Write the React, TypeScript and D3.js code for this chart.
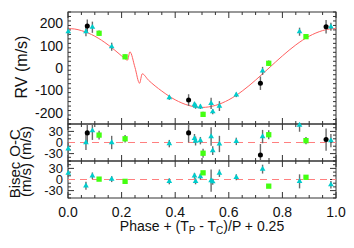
import { useRef, useEffect } from "react";
import * as d3 from "d3";

// model RV curve (phase, m/s), incl. the RM anomaly near 0.23
const modelPhase = [0, 0.025, 0.05, 0.1, 0.15, 0.2, 0.215, 0.222, 0.231, 0.25, 0.267, 0.277, 0.3, 0.35, 0.4, 0.45, 0.5, 0.55, 0.6, 0.65, 0.7, 0.75, 0.8, 0.85, 0.9, 0.95, 0.975, 1.0];
const modelRV = [176, 174, 167, 142, 103, 54, 39, 35, 72, 2, -68, -26, -54, -103, -142, -167, -176, -167, -142, -103, -54, 0, 54, 103, 142, 167, 174, 176];

// cyan triangles
const cyanPhase = [0.001, 0.067, 0.091, 0.163, 0.378, 0.472, 0.476, 0.494, 0.534, 0.54, 0.565, 0.628, 0.726, 0.864, 0.981];
const cyanRV = [162, 162, 182, 95, -132, -163, -170, -173, -158, -195, -170, -120, -13, 162, 184];
const cyanErr = [18, 20, 25, 18, 10, 12, 12, 10, 25, 12, 22, 10, 18, 18, 18];
const cyanOC = [-17, 0, 32, 0, -3, 11, 4, 5, 16, -22, -4, 3, 16, 47, 5];
const cyanBis = [17, -17, 10, 1, -5, 10, -5, 8, -3, -6, 17, 6, 28, -5, -14];
const cyanBisErr = [10, 11, 9, 8, 8, 8, 8, 8, 30, 8, 10, 8, 12, 19, 10];

// green squares
const greenPhase = [0.116, 0.213, 0.504, 0.749, 0.888];
const greenRV = [155, 50, -207, 21, 140];
const greenErr = [12, 10, 12, 12, 10];
const greenOC = [20, 10, -29, 21, 5];
const greenBis = [1, -5, 18, -18, 6];
const greenBisErr = [5, 5, 5, 5, 5];

// black circles (no bisectors)
const blackPhase = [0.072, 0.45, 0.718, 0.963];
const blackRV = [187, -143, -68, 184];
const blackErr = [30, 26, 30, 30];
const blackOC = [26, 26, -34, 8];

const xTickLabels = ["0.0", "0.2", "0.4", "0.6", "0.8", "1.0"];

const FONT = "'Liberation Sans', Arial, sans-serif";

const App = () => {
  const svgRef = useRef<SVGSVGElement>(null);

  useEffect(() => {
    const svg = d3.select(svgRef.current);
    svg.selectAll("*").remove();

    const x = d3.scaleLinear().domain([0, 1]).range([68, 336]);

    const panels = [
      { top: 12, bottom: 124, domain: [-250, 250], major: [-200, -100, 0, 100, 200], minor: 20, fs: 14 },
      { top: 124, bottom: 161, domain: [-50, 50], major: [-30, 0, 30], minor: 10, fs: 13 },
      { top: 161, bottom: 198, domain: [-50, 50], major: [-30, 0, 30], minor: 10, fs: 13 },
    ];
    const scales = panels.map((p) =>
      d3.scaleLinear().domain(p.domain).range([p.bottom, p.top])
    );

    const xMajor = d3.range(0, 1.0001, 0.2);
    const xMinor = d3.range(0, 1.0001, 0.05);

    panels.forEach((p, i) => {
      const y = scales[i];
      const g = svg.append("g");
      const yMinor = d3.range(p.domain[0], p.domain[1] + 0.001, p.minor);

      // x ticks on top and bottom edges
      xMinor.forEach((v) => {
        const isMajor = xMajor.some((m) => Math.abs(m - v) < 1e-6);
        const len = isMajor ? 6 : 3;
        g.append("line").attr("x1", x(v)).attr("x2", x(v)).attr("y1", p.bottom).attr("y2", p.bottom - len)
          .attr("stroke", "#333").attr("stroke-width", 1);
        g.append("line").attr("x1", x(v)).attr("x2", x(v)).attr("y1", p.top).attr("y2", p.top + len)
          .attr("stroke", "#333").attr("stroke-width", 1);
      });
      // y ticks on left and right edges
      yMinor.forEach((v) => {
        const len = p.major.includes(v) ? 6 : 3;
        g.append("line").attr("x1", 68).attr("x2", 68 + len).attr("y1", y(v)).attr("y2", y(v))
          .attr("stroke", "#333").attr("stroke-width", 1);
        g.append("line").attr("x1", 336).attr("x2", 336 - len).attr("y1", y(v)).attr("y2", y(v))
          .attr("stroke", "#333").attr("stroke-width", 1);
      });

      g.selectAll(".ylab")
        .data(p.major)
        .join("text")
        .attr("x", 63)
        .attr("y", (d) => y(d) + p.fs * 0.36)
        .attr("text-anchor", "end")
        .attr("font-family", FONT)
        .attr("font-size", p.fs)
        .attr("fill", "#111")
        .text((d) => String(d));

      g.append("rect")
        .attr("x", 68).attr("y", p.top)
        .attr("width", 268).attr("height", p.bottom - p.top)
        .attr("fill", "none").attr("stroke", "#333").attr("stroke-width", 1);
    });

    // zero lines in residual panels
    [1, 2].forEach((i) => {
      svg.append("line")
        .attr("x1", 68).attr("x2", 336)
        .attr("y1", scales[i](0)).attr("y2", scales[i](0))
        .attr("stroke", "#ff7f7f").attr("stroke-width", 1)
        .attr("stroke-dasharray", "7,5");
    });

    // model curve
    const modelData = modelPhase.map((p, i) => [p, modelRV[i]] as [number, number]);
    const line = d3.line<[number, number]>()
      .x((d) => x(d[0]))
      .y((d) => scales[0](d[1]))
      .curve(d3.curveMonotoneX);
    svg.append("path").attr("d", line(modelData)).attr("fill", "none")
      .attr("stroke", "#ff6060").attr("stroke-width", 1);

    type Pt = { p: number; v: number; e: number };
    const mk = (ph: number[], vals: number[], errs: number[]): Pt[] =>
      ph.map((p, i) => ({ p, v: vals[i], e: errs[i] }));

    const sets = [
      { kind: "black", sym: d3.symbolCircle, size: 20, fill: "#000",
        data: [mk(blackPhase, blackRV, blackErr), mk(blackPhase, blackOC, blackErr), []] },
      { kind: "cyan", sym: d3.symbolTriangle, size: 14, fill: "#00cccc",
        data: [mk(cyanPhase, cyanRV, cyanErr), mk(cyanPhase, cyanOC, cyanErr), mk(cyanPhase, cyanBis, cyanBisErr)] },
      { kind: "green", sym: d3.symbolSquare, size: 28, fill: "#44ff11",
        data: [mk(greenPhase, greenRV, greenErr), mk(greenPhase, greenOC, greenErr), mk(greenPhase, greenBis, greenBisErr)] },
    ];

    // error bars first, then markers
    sets.forEach((s) => {
      s.data.forEach((pts, i) => {
        const y = scales[i];
        svg.append("g").selectAll("line")
          .data(pts)
          .join("line")
          .attr("x1", (d) => x(d.p)).attr("x2", (d) => x(d.p))
          .attr("y1", (d) => Math.max(panels[i].top, y(d.v + d.e)))
          .attr("y2", (d) => Math.min(panels[i].bottom, y(d.v - d.e)))
          .attr("stroke", "#6a6a6a").attr("stroke-width", 1.4);
      });
    });
    sets.forEach((s) => {
      const sym = d3.symbol().type(s.sym).size(s.size);
      s.data.forEach((pts, i) => {
        const y = scales[i];
        svg.append("g").selectAll("path")
          .data(pts)
          .join("path")
          .attr("transform", (d) => `translate(${x(d.p)},${y(d.v)})`)
          .attr("d", sym())
          .attr("fill", s.fill);
      });
    });

    // x tick labels
    svg.append("g").selectAll("text")
      .data(xTickLabels)
      .join("text")
      .attr("x", (d) => x(+d))
      .attr("y", 217)
      .attr("text-anchor", "middle")
      .attr("font-family", FONT)
      .attr("font-size", 14)
      .attr("fill", "#111")
      .text((d) => d);

    // x title with subscripts
    const xt = svg.append("text")
      .attr("x", 202).attr("y", 231)
      .attr("text-anchor", "middle")
      .attr("font-family", FONT)
      .attr("font-size", 14)
      .attr("fill", "#111");
    xt.append("tspan").text("Phase + (T");
    xt.append("tspan").attr("font-size", 10).attr("dy", 3).text("P");
    xt.append("tspan").attr("dy", -3).text(" - T");
    xt.append("tspan").attr("font-size", 10).attr("dy", 3).text("C");
    xt.append("tspan").attr("dy", -3).text(")/P + 0.25");

    // y titles
    const ylab = (tx: number, ty: number, txt: string, size: number) =>
      svg.append("text")
        .attr("transform", `translate(${tx},${ty}) rotate(-90)`)
        .attr("text-anchor", "middle")
        .attr("font-family", FONT)
        .attr("font-size", size)
        .attr("fill", "#111")
        .text(txt);

    ylab(27, 67, "RV (m/s)", 16);
    ylab(20, 143, "O-C", 15);
    ylab(31, 143, "(m/s)", 15);
    ylab(20, 180, "Bisec", 15);
    ylab(31, 180, "(m/s)", 15);
  }, []);

  return (
    <svg
      ref={svgRef}
      width={354}
      height={248}
      style={{ position: "absolute", left: 0, top: 0, background: "#fff" }}
    ></svg>
  );
};

export default App;
